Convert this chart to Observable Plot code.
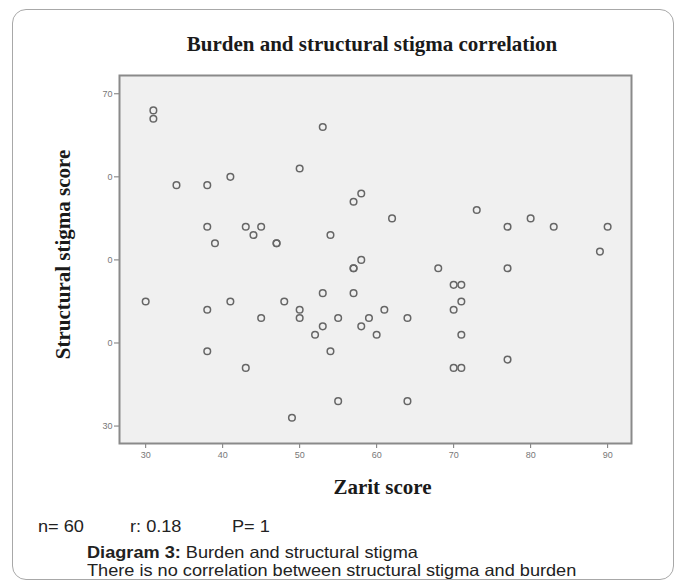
<!DOCTYPE html>
<html>
<head>
<meta charset="utf-8">
<script src="https://cdn.jsdelivr.net/npm/d3@7"></script>
<script src="https://cdn.jsdelivr.net/npm/@observablehq/plot@0.6"></script>
<style>
  html, body { margin: 0; padding: 0; background: #fff; }
  #page { position: relative; width: 678px; height: 585px; overflow: hidden; }
  #card { position: absolute; left: 12px; top: 9px; width: 662px; height: 571px;
          border: 1px solid #a8a8a8; border-radius: 14px; box-sizing: border-box; }
  #title { position: absolute; left: 372px; top: 32px; transform: translateX(-50%);
           font-family: "Liberation Serif", serif; font-weight: bold; font-size: 21px;
           line-height: 24px; color: #1a1a1a; white-space: nowrap; }
  #chart { position: absolute; left: 0; top: 62px; }
  .cap { position: absolute; font-family: "Liberation Sans", Arial, sans-serif; font-size: 16.5px;
         line-height: 17px; color: #222; white-space: nowrap;
         transform: scaleX(1.1); transform-origin: left center; }
</style>
</head>
<body>
<div id="page">
  <div id="card"></div>
  <div id="title">Burden and structural stigma correlation</div>
  <div id="chart"></div>
  <div class="cap" style="left:38px; top:518px;">n= 60</div>
  <div class="cap" style="left:130px; top:518px;">r: 0.18</div>
  <div class="cap" style="left:232px; top:518px;">P= 1</div>
  <div class="cap" style="left:87px; top:544px;"><b>Diagram 3:</b> Burden and structural stigma</div>
  <div class="cap" style="left:87px; top:562px;">There is no correlation between structural stigma and burden</div>
</div>
<script>
// Zarit score (x) and structural stigma score (y)
const zarit = [31, 31, 34, 38, 41, 38, 39, 43, 44, 45, 47, 47, 50, 53, 54, 57, 58, 62, 58, 73,
               77, 80, 83, 90, 89, 30, 38, 41, 45, 48, 50, 50, 53, 52, 53, 54, 55, 38, 43, 49,
               55, 57, 57, 68, 77, 70, 71, 57, 71, 61, 70, 58, 59, 60, 64, 71, 77, 70, 71, 64];
const stigma = [68, 67, 59, 59, 60, 54, 52, 54, 53, 54, 52, 52, 61, 66, 53, 57, 58, 55, 50, 56,
                54, 55, 54, 54, 51, 45, 44, 45, 43, 45, 44, 43, 46, 41, 42, 39, 43, 39, 37, 31,
                33, 49, 49, 49, 49, 47, 47, 46, 45, 44, 44, 42, 43, 41, 43, 41, 38, 37, 37, 33];
const xTicks = [30, 40, 50, 60, 70, 80, 90];
const yTicks = [70, 60, 50, 40, 30];
const yTickLabels = ["70", "0", "0", "0", "30"];

const data = zarit.map((x, i) => ({x, y: stigma[i]}));

const chart = Plot.plot({
  width: 678,
  height: 440,
  marginLeft: 119,
  marginRight: 47,
  marginTop: 13,
  marginBottom: 59,
  style: {background: "transparent", fontFamily: "Liberation Sans, Arial, sans-serif"},
  x: {domain: [26.6, 93.1]},
  y: {domain: [27.9, 72.2]},
  marks: [
    Plot.frame({fill: "#f0f0f0", stroke: "none"}),
    Plot.axisX({ticks: xTicks, tickSize: 5, tickPadding: 3, fontSize: 9, color: "#777",
                tickFormat: d => String(d), label: null}),
    Plot.axisY({ticks: yTicks, tickSize: 5, tickPadding: 2, fontSize: 9, color: "#777",
                tickFormat: d => yTickLabels[yTicks.indexOf(d)], label: null}),
    Plot.dot(data, {x: "x", y: "y", r: 3.3, stroke: "#666", strokeWidth: 1.5, fill: "none"}),
    Plot.frame({stroke: "#8a8a8a", strokeWidth: 2}),
    Plot.text(["Structural stigma score"], {text: d => d, frameAnchor: "left", dx: -56, dy: -5, rotate: -90,
              lineAnchor: "middle", textAnchor: "middle", fontSize: 21, fontWeight: "bold",
              fontFamily: "Liberation Serif, serif", fill: "#1a1a1a"}),
    Plot.text(["Zarit score"], {text: d => d, frameAnchor: "bottom", dy: 44, dx: 7,
              lineAnchor: "middle", textAnchor: "middle", fontSize: 21, fontWeight: "bold",
              fontFamily: "Liberation Serif, serif", fill: "#1a1a1a"})
  ]
});
document.getElementById("chart").appendChild(chart);
</script>
</body>
</html>
